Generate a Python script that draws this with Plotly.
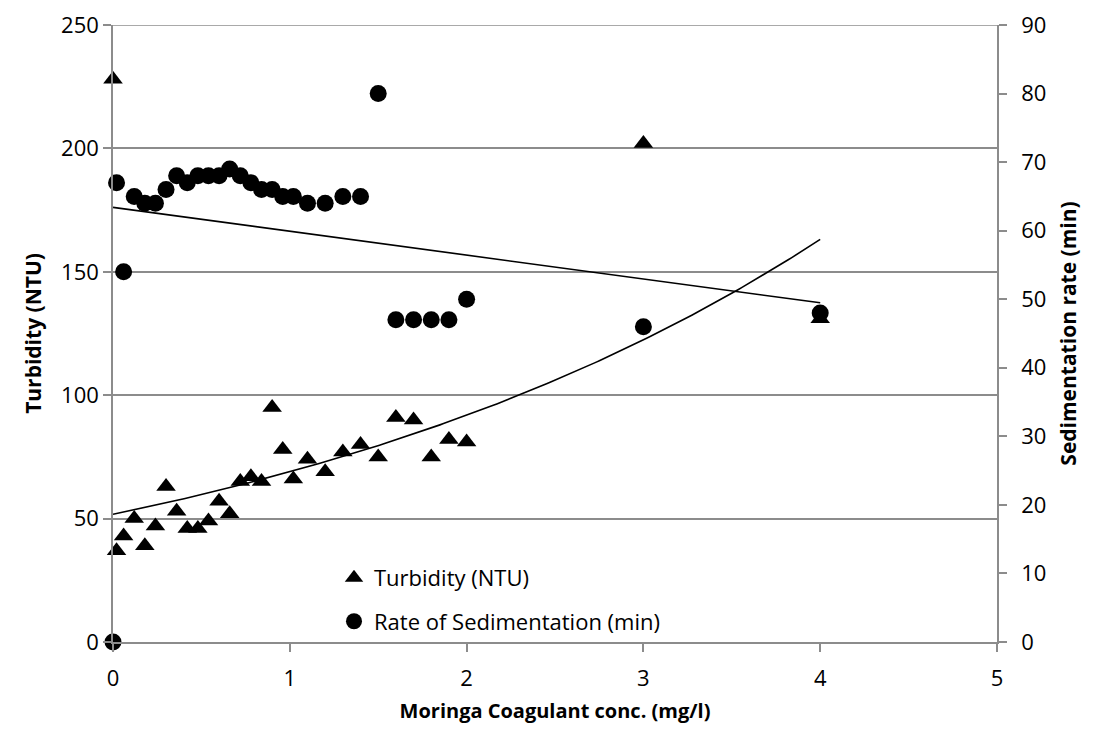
import numpy as np
import plotly.graph_objects as go

# Moringa coagulant dose (mg/l)
conc = [0, 0.02, 0.06, 0.12, 0.18, 0.24, 0.30, 0.36, 0.42, 0.48, 0.54, 0.60,
        0.66, 0.72, 0.78, 0.84, 0.90, 0.96, 1.02, 1.1, 1.2, 1.3, 1.4, 1.5,
        1.6, 1.7, 1.8, 1.9, 2.0, 3, 4]
# Residual turbidity (NTU)
turbidity = [228, 37, 43, 50, 39, 47, 63, 53, 46, 46, 49, 57, 52, 65, 67, 65,
             95, 78, 66, 74, 69, 77, 80, 75, 91, 90, 75, 82, 81, 202, 131]
# Sedimentation time (min)
sedimentation = [0, 67, 54, 65, 64, 64, 66, 68, 67, 68, 68, 68, 69, 68, 67, 66,
                 66, 65, 65, 64, 64, 65, 65, 80, 47, 47, 47, 47, 50, 46, 48]

x_ticks = [0, 1, 2, 3, 4, 5]
left_ticks = [0, 50, 100, 150, 200, 250]
right_ticks = [0, 10, 20, 30, 40, 50, 60, 70, 80, 90]

FONT = "Open Sans"
GRID = "#8c8c8c"
TICK_SIZE = 22

x_arr = np.array(conc, dtype=float)
# exponential trend for turbidity, linear trend for sedimentation
b_exp, ln_a = np.polyfit(x_arr, np.log(turbidity), 1)
m_lin, c_lin = np.polyfit(x_arr, np.array(sedimentation, dtype=float), 1)
xs = np.linspace(x_arr.min(), x_arr.max(), 200)

fig = go.Figure()
fig.add_trace(go.Scatter(
    x=conc, y=turbidity, mode="markers", name="Turbidity (NTU)",
    legendgroup="t", cliponaxis=False,
    marker=dict(symbol="triangle-up", size=17, color="black"),
))
fig.add_trace(go.Scatter(
    x=conc, y=sedimentation, mode="markers", name="Rate of Sedimentation (min)",
    legendgroup="s", yaxis="y2", cliponaxis=False,
    marker=dict(symbol="circle", size=17, color="black"),
))
fig.add_trace(go.Scatter(
    x=xs, y=np.exp(ln_a) * np.exp(b_exp * xs), mode="lines", showlegend=False,
    line=dict(color="black", width=1.6), hoverinfo="skip",
))
fig.add_trace(go.Scatter(
    x=xs, y=c_lin + m_lin * xs, mode="lines", showlegend=False, yaxis="y2",
    line=dict(color="black", width=1.6), hoverinfo="skip",
))

axis_common = dict(
    showline=True, linecolor=GRID, linewidth=1.6, zeroline=False,
    ticks="outside", ticklen=8, tickwidth=1.6, tickcolor=GRID,
    tickfont=dict(family=FONT, size=TICK_SIZE, color="black"),
    automargin=False,
)

fig.update_layout(
    width=1097, height=740,
    margin=dict(l=113, r=100, t=25, b=98),
    paper_bgcolor="white", plot_bgcolor="white",
    font=dict(family=FONT, color="black"),
    xaxis=dict(
        range=[0, 5], tickvals=x_ticks, showgrid=False,
        ticklabelstandoff=8,
        title=dict(text="<b>Moringa Coagulant conc. (mg/l)</b>",
                   font=dict(family=FONT, size=20), standoff=13),
        **axis_common,
    ),
    yaxis=dict(
        range=[0, 250], tickvals=left_ticks, showgrid=True,
        gridcolor=GRID, gridwidth=1.6,
        title=dict(text="<b>Turbidity (NTU)</b>",
                   font=dict(family=FONT, size=21), standoff=14),
        **axis_common,
    ),
    yaxis2=dict(
        range=[0, 90], tickvals=right_ticks, overlaying="y", side="right",
        showgrid=False, ticklabelstandoff=10,
        title=dict(text="<b>Sedimentation rate (min)</b>",
                   font=dict(family=FONT, size=21), standoff=16),
        **axis_common,
    ),
    legend=dict(
        x=0.25, y=0.138, xanchor="left", yanchor="top",
        bgcolor="rgba(0,0,0,0)", tracegroupgap=12,
        font=dict(family=FONT, size=TICK_SIZE, color="black"),
    ),
    showlegend=True,
    # top gridline at the 250 level
    shapes=[dict(type="line", xref="paper", yref="y", x0=0, x1=1,
                 y0=left_ticks[-1], y1=left_ticks[-1],
                 line=dict(color=GRID, width=1.6), layer="below")],
)

fig.write_html("out.html")
